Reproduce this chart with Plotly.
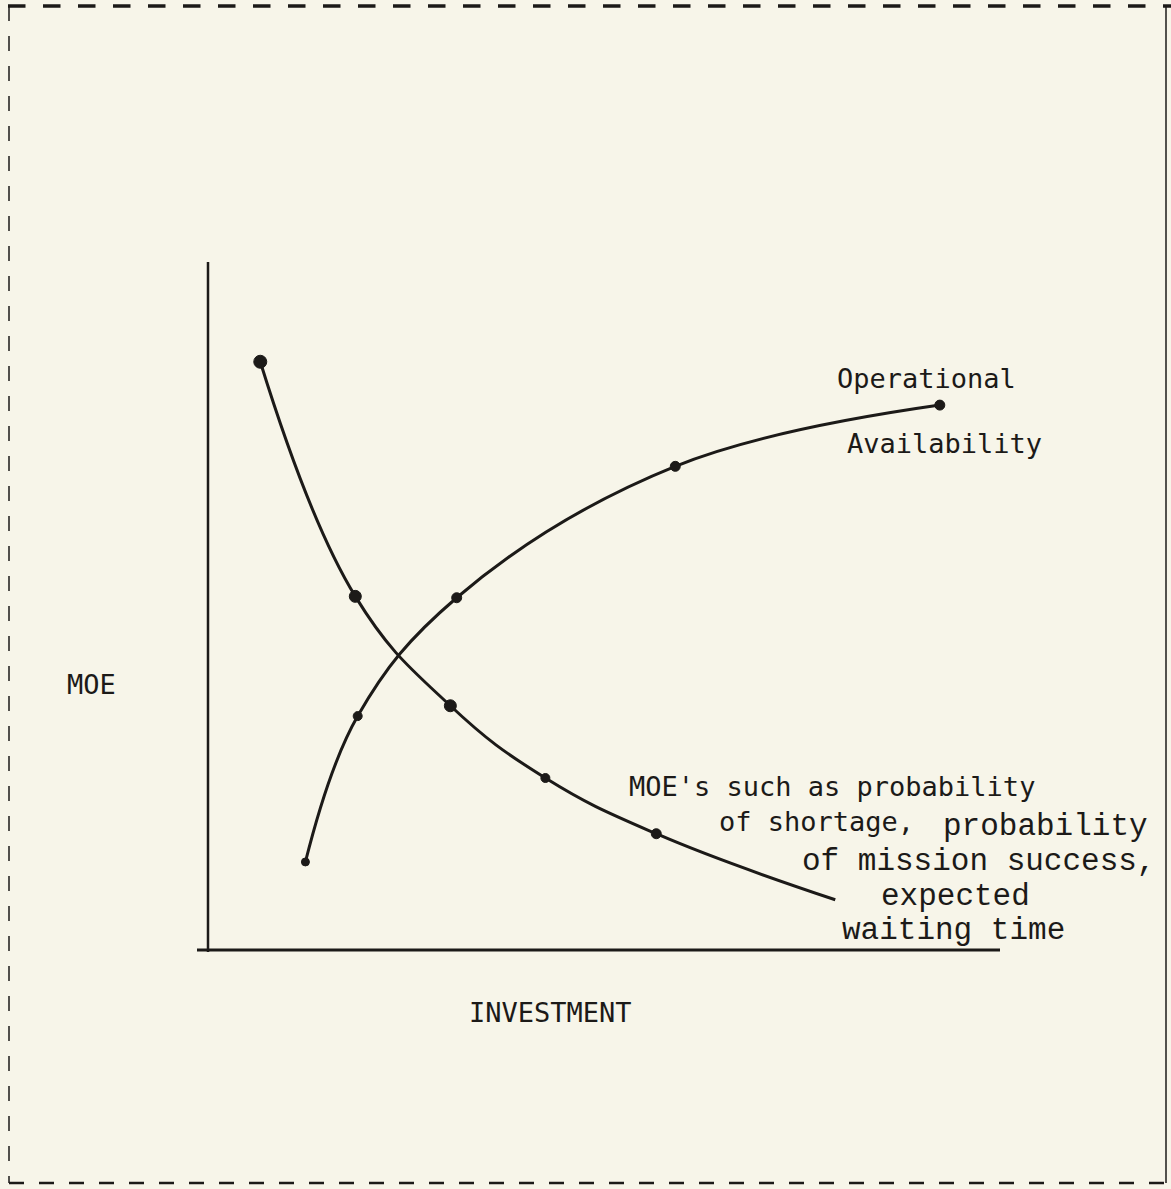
import plotly.graph_objects as go

# ---- data (abstract units: investment 0-100, MOE 0-100) ----
avail_investment = [12.3, 18.9, 31.4, 59.0, 92.4]
avail_moe = [12.8, 34.0, 51.2, 70.3, 79.2]

other_investment = [6.6, 18.6, 30.6, 42.6, 56.6, 79.2]
other_moe = [85.5, 51.4, 35.5, 25.0, 16.9, 7.3]

x_title = "INVESTMENT"
y_title = "MOE"
avail_label = ["Operational", "Availability"]

W, H = 1171, 1189
L, R, T, B = 208, 1000, 262, 950   # plot box in pixels

def px(xp):
    return (xp - L) / (R - L)

def py(yp):
    return (B - yp) / (B - T)

ink = "#1c1a18"
bg = "#f7f5e9"
typew = "DejaVu Sans Mono"
courier = "Liberation Mono"

fig = go.Figure()
fig.add_trace(go.Scatter(
    x=avail_investment, y=avail_moe, mode="lines+markers",
    line=dict(color=ink, width=3, shape="spline", smoothing=1.1),
    marker=dict(color=ink, opacity=1, size=[8, 9, 10, 10, 10],
                line=dict(width=1, color=ink)),
    opacity=1, cliponaxis=False, hoverinfo="skip"))
fig.add_trace(go.Scatter(
    x=other_investment, y=other_moe, mode="lines+markers",
    line=dict(color=ink, width=3, shape="spline", smoothing=1.2),
    marker=dict(color=ink, opacity=1, size=[13, 12, 12, 9, 10, 0],
                line=dict(width=1, color=ink)),
    opacity=1, cliponaxis=False, hoverinfo="skip"))

shapes = []
# axes
shapes.append(dict(type="line", xref="paper", yref="paper",
                   x0=px(197), x1=px(1000), y0=0, y1=0,
                   line=dict(color=ink, width=3)))
shapes.append(dict(type="line", xref="paper", yref="paper",
                   x0=0, x1=0, y0=py(952), y1=1,
                   line=dict(color=ink, width=2.5)))
# dashed frame
shapes.append(dict(type="line", xref="paper", yref="paper",
                   x0=px(8), x1=px(1171), y0=py(6), y1=py(6),
                   line=dict(color=ink, width=3.5, dash="longdash")))
shapes.append(dict(type="line", xref="paper", yref="paper",
                   x0=px(9), x1=px(9), y0=py(6), y1=py(1183),
                   line=dict(color=ink, width=1.5, dash="longdash")))
shapes.append(dict(type="line", xref="paper", yref="paper",
                   x0=px(1166), x1=px(1166), y0=py(6), y1=py(1183),
                   line=dict(color=ink, width=1.5)))
shapes.append(dict(type="line", xref="paper", yref="paper",
                   x0=px(9), x1=px(1166), y0=py(1183), y1=py(1183),
                   line=dict(color=ink, width=2.5, dash="longdash")))

anns = []
def label(text, xl, yc, font, size):
    anns.append(dict(text=text, xref="paper", yref="paper",
                     x=px(xl), y=py(yc), xanchor="left", yanchor="middle",
                     showarrow=False, borderpad=0,
                     font=dict(family=font, size=size, color=ink)))

label(avail_label[0], 836, 378, typew, 27)
label(avail_label[1], 846, 443, typew, 27)
label(y_title, 66, 684, typew, 27)
label(x_title, 468, 1012, typew, 27)
label("MOE's such as probability", 628, 786, typew, 27)
label("of shortage,", 718, 821, typew, 27)
label("probability", 942, 826, courier, 31)
label("of mission success,", 801, 861, courier, 31)
label("expected", 880, 896, courier, 31)
label("waiting time", 841, 930, courier, 31)

fig.update_layout(
    width=W, height=H,
    margin=dict(l=L, r=W - R, t=T, b=H - B),
    paper_bgcolor=bg, plot_bgcolor=bg,
    showlegend=False,
    xaxis=dict(range=[0, 100], visible=False, fixedrange=True),
    yaxis=dict(range=[0, 100], visible=False, fixedrange=True),
    shapes=shapes, annotations=anns,
)

fig.write_html(
    "out.html",
    config={"displayModeBar": False},
    post_script="document.body.style.margin='0';document.body.style.background='%s';" % bg,
)
